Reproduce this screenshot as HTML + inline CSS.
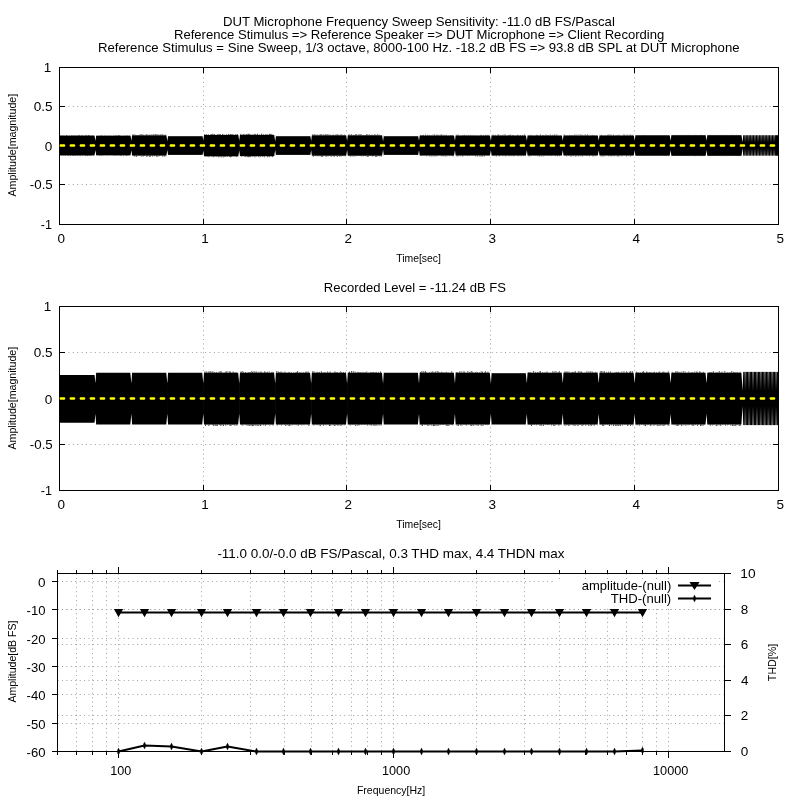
<!DOCTYPE html>
<html><head><meta charset="utf-8"><style>
html,body{margin:0;padding:0;background:#fff;width:800px;height:800px;overflow:hidden}
svg{display:block;will-change:transform}
text{font-family:"Liberation Sans", sans-serif;fill:#000}
</style></head><body>
<svg width="800" height="800" viewBox="0 0 800 800">
<rect width="800" height="800" fill="#fff"/>
<text x="222.92" y="26.00" font-size="13.5" textLength="391.96" lengthAdjust="spacingAndGlyphs">DUT Microphone Frequency Sweep Sensitivity: -11.0 dB FS/Pascal</text>
<text x="173.93" y="39.00" font-size="13.5" textLength="490.42" lengthAdjust="spacingAndGlyphs">Reference Stimulus =&gt; Reference Speaker =&gt; DUT Microphone =&gt; Client Recording</text>
<text x="97.92" y="52.00" font-size="13.5" textLength="641.66" lengthAdjust="spacingAndGlyphs">Reference Stimulus = Sine Sweep, 1/3 octave, 8000-100 Hz. -18.2 dB FS =&gt; 93.8 dB SPL at DUT Microphone</text>
<path d="M203.5 224V68" stroke="#a0a0a0" stroke-width="1" stroke-dasharray="1 3.41"/>
<path d="M346.5 224V68" stroke="#a0a0a0" stroke-width="1" stroke-dasharray="1 3.41"/>
<path d="M490.5 224V68" stroke="#a0a0a0" stroke-width="1" stroke-dasharray="1 3.41"/>
<path d="M634.5 224V68" stroke="#a0a0a0" stroke-width="1" stroke-dasharray="1 3.41"/>
<path d="M59.6 106.5H778" stroke="#a0a0a0" stroke-width="1" stroke-dasharray="1 3.41"/>
<path d="M59.6 145.5H778" stroke="#a0a0a0" stroke-width="1" stroke-dasharray="1 3.41"/>
<path d="M59.6 184.5H778" stroke="#a0a0a0" stroke-width="1" stroke-dasharray="1 3.41"/>
<rect x="59.5" y="67.5" width="719" height="157" fill="none" stroke="#000" stroke-width="1"/>
<path d="M59.5 219V225" stroke="#000" stroke-width="1"/>
<path d="M59.5 67V73" stroke="#000" stroke-width="1"/>
<text x="57.55" y="243.00" font-size="13.5">0</text>
<path d="M203.5 219V225" stroke="#000" stroke-width="1"/>
<path d="M203.5 67V73" stroke="#000" stroke-width="1"/>
<text x="201.36" y="243.00" font-size="13.5">1</text>
<path d="M346.5 219V225" stroke="#000" stroke-width="1"/>
<path d="M346.5 67V73" stroke="#000" stroke-width="1"/>
<text x="344.55" y="243.00" font-size="13.5">2</text>
<path d="M490.5 219V225" stroke="#000" stroke-width="1"/>
<path d="M490.5 67V73" stroke="#000" stroke-width="1"/>
<text x="488.59" y="243.00" font-size="13.5">3</text>
<path d="M634.5 219V225" stroke="#000" stroke-width="1"/>
<path d="M634.5 67V73" stroke="#000" stroke-width="1"/>
<text x="632.59" y="243.00" font-size="13.5">4</text>
<path d="M778.5 219V225" stroke="#000" stroke-width="1"/>
<path d="M778.5 67V73" stroke="#000" stroke-width="1"/>
<text x="776.56" y="243.00" font-size="13.5">5</text>
<path d="M59 67.5H65" stroke="#000" stroke-width="1"/>
<path d="M773 67.5H779" stroke="#000" stroke-width="1"/>
<text x="43.75" y="72.00" font-size="13.5">1</text>
<path d="M59 106.5H65" stroke="#000" stroke-width="1"/>
<path d="M773 106.5H779" stroke="#000" stroke-width="1"/>
<text x="33.67" y="111.00" font-size="13.5" textLength="18.80" lengthAdjust="spacingAndGlyphs">0.5</text>
<path d="M59 145.5H65" stroke="#000" stroke-width="1"/>
<path d="M773 145.5H779" stroke="#000" stroke-width="1"/>
<text x="44.82" y="150.60" font-size="13.5">0</text>
<path d="M59 184.5H65" stroke="#000" stroke-width="1"/>
<path d="M773 184.5H779" stroke="#000" stroke-width="1"/>
<text x="29.81" y="189.00" font-size="13.5" textLength="22.95" lengthAdjust="spacingAndGlyphs">-0.5</text>
<path d="M59 224.5H65" stroke="#000" stroke-width="1"/>
<path d="M773 224.5H779" stroke="#000" stroke-width="1"/>
<text x="40.84" y="229.00" font-size="13.5" textLength="11.17" lengthAdjust="spacingAndGlyphs">-1</text>
<text x="396.17" y="262.00" font-size="11.4" textLength="44.77" lengthAdjust="spacingAndGlyphs">Time[sec]</text>
<text transform="translate(15.90 0.00) rotate(-90)" x="-196.52" y="0.00" font-size="11.4" textLength="102.68" lengthAdjust="spacingAndGlyphs">Amplitude[magnitude]</text>
<rect x="59.50" y="135.60" width="36.55" height="19.80" fill="#000"/>
<path d="M61.00 135.60v-0.43M61.70 155.40v0.48M63.10 135.60v-0.43M63.80 155.40v0.45M64.77 135.60v-0.29M65.47 155.40v0.46M66.48 135.60v-0.60M67.18 155.40v0.25M67.78 135.60v-0.25M68.48 155.40v0.60M69.58 135.60v-0.22M70.28 155.40v0.69M71.73 135.60v-0.53M72.43 155.40v0.51M72.84 135.60v-0.21M73.54 155.40v0.46M73.82 135.60v-0.30M74.52 155.40v0.32M74.76 135.60v-0.43M75.46 155.40v0.42M76.75 135.60v-0.46M77.45 155.40v0.52M78.30 135.60v-0.53M79.00 155.40v0.43M79.56 135.60v-0.70M80.26 155.40v0.70M81.55 135.60v-0.55M82.25 155.40v0.36M82.75 135.60v-0.34M83.45 155.40v0.24M84.65 135.60v-0.40M85.35 155.40v0.62M86.05 135.60v-0.68M86.75 155.40v0.62M86.95 135.60v-0.30M87.65 155.40v0.66M88.46 135.60v-0.69M89.16 155.40v0.40M89.46 135.60v-0.51M90.16 155.40v0.59M90.71 135.60v-0.24M91.41 155.40v0.37M92.86 135.60v-0.58M93.56 155.40v0.26" stroke="#000" stroke-width="0.8"/>
<rect x="95.45" y="135.70" width="36.55" height="19.60" fill="#000"/>
<path d="M96.95 135.70v-0.25M97.65 155.30v0.23M98.89 135.70v-0.29M99.59 155.30v0.48M100.37 135.70v-0.30M101.07 155.30v0.57M101.44 135.70v-0.52M102.14 155.30v0.26M102.89 135.70v-0.31M103.59 155.30v0.33M105.05 135.70v-0.60M105.75 155.30v0.35M107.10 135.70v-0.31M107.80 155.30v0.40M109.11 135.70v-0.52M109.81 155.30v0.25M111.29 135.70v-0.31M111.99 155.30v0.33M113.20 135.70v-0.36M113.90 155.30v0.35M114.19 135.70v-0.25M114.89 155.30v0.49M115.41 135.70v-0.50M116.11 155.30v0.39M116.90 135.70v-0.68M117.60 155.30v0.44M118.55 135.70v-0.63M119.25 155.30v0.29M119.65 135.70v-0.65M120.35 155.30v0.61M120.87 135.70v-0.29M121.57 155.30v0.57M122.99 135.70v-0.30M123.69 155.30v0.68M125.04 135.70v-0.50M125.74 155.30v0.41M126.08 135.70v-0.22M126.78 155.30v0.68M127.29 135.70v-0.55M127.99 155.30v0.33M129.26 135.70v-0.50M129.96 155.30v0.35" stroke="#000" stroke-width="0.8"/>
<rect x="131.40" y="135.30" width="36.55" height="20.30" fill="#000"/>
<path d="M132.90 135.30v-0.92M133.60 155.60v0.27M134.10 135.30v-0.76M134.80 155.60v1.05M135.80 135.30v-0.48M136.50 155.60v1.12M136.96 135.30v-0.22M137.66 155.60v0.47M138.44 135.30v-0.26M139.14 155.60v0.38M139.82 135.30v-0.77M140.52 155.60v0.33M141.19 135.30v-1.09M141.89 155.60v1.18M142.94 135.30v-0.89M143.64 155.60v0.78M144.03 135.30v-0.24M144.73 155.60v0.22M146.11 135.30v-0.90M146.81 155.60v1.16M147.04 135.30v-0.84M147.74 155.60v0.68M148.89 135.30v-0.52M149.59 155.60v1.20M149.89 135.30v-0.75M150.59 155.60v0.94M151.96 135.30v-0.94M152.66 155.60v0.90M153.89 135.30v-1.12M154.59 155.60v0.55M155.68 135.30v-1.10M156.38 155.60v1.07M157.12 135.30v-0.99M157.82 155.60v1.06M158.76 135.30v-0.82M159.46 155.60v0.58M160.42 135.30v-0.81M161.12 155.60v0.28M162.15 135.30v-1.19M162.85 155.60v1.08M164.00 135.30v-0.59M164.70 155.60v0.94M165.65 135.30v-0.64M166.35 155.60v1.04" stroke="#000" stroke-width="0.8"/>
<rect x="167.35" y="136.20" width="36.55" height="18.70" fill="#000"/>
<rect x="203.30" y="135.00" width="36.55" height="21.30" fill="#000"/>
<path d="M204.80 135.00v-0.95M205.50 156.30v0.23M206.48 135.00v-0.68M207.18 156.30v0.43M208.29 135.00v-0.70M208.99 156.30v0.81M210.39 135.00v-0.46M211.09 156.30v0.21M211.68 135.00v-0.88M212.38 156.30v0.40M212.80 135.00v-1.11M213.50 156.30v0.86M214.27 135.00v-1.09M214.97 156.30v0.53M216.04 135.00v-0.40M216.74 156.30v0.63M217.99 135.00v-1.11M218.69 156.30v1.08M219.39 135.00v-0.78M220.09 156.30v0.52M220.46 135.00v-0.70M221.16 156.30v1.04M222.47 135.00v-0.91M223.17 156.30v1.15M223.73 135.00v-0.37M224.43 156.30v0.65M224.98 135.00v-0.41M225.68 156.30v0.61M226.70 135.00v-0.69M227.40 156.30v0.52M228.69 135.00v-1.18M229.39 156.30v0.65M229.68 135.00v-0.23M230.38 156.30v1.07M230.64 135.00v-0.91M231.34 156.30v0.77M231.94 135.00v-0.99M232.64 156.30v0.22M233.02 135.00v-0.65M233.72 156.30v0.22M235.00 135.00v-0.44M235.70 156.30v0.34M235.96 135.00v-0.83M236.66 156.30v0.65M237.68 135.00v-0.86M238.38 156.30v1.01" stroke="#000" stroke-width="0.8"/>
<rect x="239.25" y="134.90" width="36.55" height="21.20" fill="#000"/>
<path d="M240.75 134.90v-0.95M241.45 156.10v0.42M242.27 134.90v-0.40M242.97 156.10v0.21M243.78 134.90v-0.99M244.48 156.10v0.40M245.04 134.90v-0.58M245.74 156.10v0.97M246.61 134.90v-0.88M247.31 156.10v1.03M248.02 134.90v-1.07M248.72 156.10v1.20M249.04 134.90v-1.23M249.74 156.10v0.99M250.11 134.90v-0.70M250.81 156.10v0.89M252.19 134.90v-0.61M252.89 156.10v0.83M254.23 134.90v-1.08M254.93 156.10v1.24M255.73 134.90v-0.92M256.43 156.10v0.43M257.57 134.90v-1.10M258.27 156.10v0.91M259.41 134.90v-0.43M260.11 156.10v1.19M261.58 134.90v-1.28M262.28 156.10v0.79M263.51 134.90v-0.55M264.21 156.10v1.20M265.52 134.90v-0.58M266.22 156.10v0.29M266.99 134.90v-0.81M267.69 156.10v1.05M268.53 134.90v-0.23M269.23 156.10v1.09M269.51 134.90v-1.08M270.21 156.10v0.39M270.85 134.90v-1.07M271.55 156.10v0.35M271.94 134.90v-0.77M272.64 156.10v1.00" stroke="#000" stroke-width="0.8"/>
<rect x="275.20" y="136.20" width="36.55" height="18.70" fill="#000"/>
<rect x="311.15" y="135.30" width="36.55" height="20.40" fill="#000"/>
<path d="M312.65 135.30v-0.82M313.35 155.70v1.05M314.19 135.30v-1.05M314.89 155.70v0.28M315.38 135.30v-0.67M316.08 155.70v0.46M317.23 135.30v-0.77M317.93 155.70v0.67M319.22 135.30v-0.70M319.92 155.70v0.48M320.62 135.30v-0.96M321.32 155.70v1.01M321.79 135.30v-0.97M322.49 155.70v1.07M323.37 135.30v-0.72M324.07 155.70v0.38M324.97 135.30v-0.65M325.67 155.70v0.74M325.90 135.30v-1.07M326.60 155.70v0.66M327.32 135.30v-0.92M328.02 155.70v0.71M328.86 135.30v-0.82M329.56 155.70v0.26M330.46 135.30v-0.57M331.16 155.70v1.06M332.56 135.30v-0.44M333.26 155.70v0.63M333.63 135.30v-0.59M334.33 155.70v0.93M335.70 135.30v-0.63M336.40 155.70v0.49M336.85 135.30v-0.76M337.55 155.70v1.03M337.92 135.30v-0.90M338.62 155.70v0.22M339.07 135.30v-0.40M339.77 155.70v0.82M340.39 135.30v-0.52M341.09 155.70v0.76M341.42 135.30v-0.86M342.12 155.70v0.31M342.99 135.30v-0.43M343.69 155.70v0.38M344.58 135.30v-0.59M345.28 155.70v0.54" stroke="#000" stroke-width="0.8"/>
<rect x="347.10" y="135.30" width="36.55" height="20.40" fill="#000"/>
<path d="M348.60 135.30v-0.68M349.30 155.70v0.34M349.77 135.30v-0.77M350.47 155.70v0.77M351.35 135.30v-0.97M352.05 155.70v0.75M353.37 135.30v-0.41M354.07 155.70v0.87M355.32 135.30v-1.01M356.02 155.70v0.48M356.63 135.30v-1.03M357.33 155.70v0.40M358.83 135.30v-1.00M359.53 155.70v0.32M360.04 135.30v-0.85M360.74 155.70v0.43M361.07 135.30v-0.95M361.77 155.70v0.58M362.99 135.30v-0.31M363.69 155.70v0.56M364.78 135.30v-0.22M365.48 155.70v0.38M366.57 135.30v-1.02M367.27 155.70v1.07M367.62 135.30v-0.66M368.32 155.70v0.88M369.17 135.30v-0.82M369.87 155.70v0.37M370.17 135.30v-0.30M370.87 155.70v0.23M371.78 135.30v-0.66M372.48 155.70v0.71M372.87 135.30v-0.37M373.57 155.70v0.38M374.87 135.30v-1.09M375.57 155.70v1.03M375.89 135.30v-0.26M376.59 155.70v1.06M377.39 135.30v-0.89M378.09 155.70v0.49M378.90 135.30v-0.66M379.60 155.70v0.59M380.58 135.30v-0.21M381.28 155.70v0.83" stroke="#000" stroke-width="0.8"/>
<rect x="383.05" y="136.20" width="36.55" height="18.70" fill="#000"/>
<rect x="419.00" y="135.50" width="36.55" height="20.00" fill="#000"/>
<path d="M420.50 135.50v-0.35M421.20 155.50v0.56M422.36 135.50v-0.52M423.06 155.50v0.36M423.48 135.50v-0.61M424.18 155.50v0.21M425.54 135.50v-0.84M426.24 155.50v0.76M427.56 135.50v-0.70M428.26 155.50v0.52M429.24 135.50v-0.60M429.94 155.50v0.99M431.18 135.50v-0.41M431.88 155.50v0.93M433.05 135.50v-0.82M433.75 155.50v0.85M434.48 135.50v-0.92M435.18 155.50v0.90M436.28 135.50v-0.81M436.98 155.50v0.81M437.71 135.50v-0.78M438.41 155.50v0.26M439.05 135.50v-0.58M439.75 155.50v0.21M440.41 135.50v-0.71M441.11 155.50v0.70M441.62 135.50v-0.96M442.32 155.50v0.73M442.95 135.50v-0.73M443.65 155.50v0.66M444.55 135.50v-0.51M445.25 155.50v1.00M446.28 135.50v-0.76M446.98 155.50v0.81M448.46 135.50v-0.22M449.16 155.50v0.69M450.32 135.50v-0.41M451.02 155.50v0.52M451.28 135.50v-0.36M451.98 155.50v0.50M452.31 135.50v-0.40M453.01 155.50v0.92" stroke="#000" stroke-width="0.8"/>
<rect x="454.95" y="135.50" width="36.55" height="20.00" fill="#000"/>
<path d="M456.45 135.50v-0.61M457.15 155.50v0.97M458.09 135.50v-1.00M458.79 155.50v0.71M460.04 135.50v-0.26M460.74 155.50v0.68M461.93 135.50v-0.24M462.63 155.50v0.94M463.04 135.50v-0.58M463.74 155.50v0.34M464.58 135.50v-0.69M465.28 155.50v0.25M466.71 135.50v-0.54M467.41 155.50v0.62M468.39 135.50v-0.49M469.09 155.50v0.43M470.14 135.50v-0.65M470.84 155.50v0.43M471.97 135.50v-0.44M472.67 155.50v0.21M473.19 135.50v-0.23M473.89 155.50v0.33M475.07 135.50v-0.51M475.77 155.50v0.92M476.94 135.50v-0.24M477.64 155.50v0.99M479.07 135.50v-0.26M479.77 155.50v0.92M480.53 135.50v-0.58M481.23 155.50v0.98M481.74 135.50v-0.62M482.44 155.50v0.95M483.58 135.50v-0.57M484.28 155.50v0.98M485.55 135.50v-0.68M486.25 155.50v0.29M487.26 135.50v-0.56M487.96 155.50v0.36M488.23 135.50v-0.62M488.93 155.50v0.30" stroke="#000" stroke-width="0.8"/>
<rect x="490.90" y="135.50" width="36.55" height="20.00" fill="#000"/>
<path d="M492.40 135.50v-0.73M493.10 155.50v0.56M493.64 135.50v-0.67M494.34 155.50v0.54M495.55 135.50v-0.62M496.25 155.50v1.00M497.69 135.50v-0.79M498.39 155.50v0.39M498.74 135.50v-0.91M499.44 155.50v0.83M500.45 135.50v-0.49M501.15 155.50v0.42M502.24 135.50v-0.65M502.94 155.50v0.67M503.96 135.50v-0.80M504.66 155.50v0.35M505.19 135.50v-0.98M505.89 155.50v0.93M507.23 135.50v-0.23M507.93 155.50v0.25M508.48 135.50v-0.54M509.18 155.50v0.70M509.52 135.50v-0.63M510.22 155.50v0.26M510.53 135.50v-0.74M511.23 155.50v0.64M512.25 135.50v-0.50M512.95 155.50v0.58M513.42 135.50v-0.47M514.12 155.50v0.80M515.41 135.50v-0.26M516.11 155.50v0.30M517.36 135.50v-0.70M518.06 155.50v0.82M518.54 135.50v-0.54M519.24 155.50v0.41M520.49 135.50v-0.50M521.19 155.50v0.72M522.68 135.50v-0.46M523.38 155.50v0.64M524.55 135.50v-0.94M525.25 155.50v0.54" stroke="#000" stroke-width="0.8"/>
<rect x="526.85" y="135.50" width="36.55" height="20.00" fill="#000"/>
<path d="M528.35 135.50v-0.28M529.05 155.50v0.90M529.35 135.50v-0.27M530.05 155.50v0.65M530.88 135.50v-0.75M531.58 155.50v0.44M532.79 135.50v-0.26M533.49 155.50v0.37M534.55 135.50v-0.27M535.25 155.50v0.44M536.39 135.50v-0.76M537.09 155.50v0.43M537.48 135.50v-0.49M538.18 155.50v0.78M538.86 135.50v-0.29M539.56 155.50v0.77M540.50 135.50v-0.93M541.20 155.50v0.95M542.58 135.50v-0.55M543.28 155.50v0.84M543.88 135.50v-0.45M544.58 155.50v0.52M545.99 135.50v-0.92M546.69 155.50v0.40M547.36 135.50v-0.49M548.06 155.50v0.49M548.78 135.50v-0.51M549.48 155.50v0.36M550.41 135.50v-0.84M551.11 155.50v0.63M552.40 135.50v-0.65M553.10 155.50v0.34M554.29 135.50v-0.90M554.99 155.50v0.43M555.21 135.50v-0.61M555.91 155.50v0.64M556.85 135.50v-0.97M557.55 155.50v0.72M558.80 135.50v-0.25M559.50 155.50v0.64M560.72 135.50v-0.27M561.42 155.50v0.27" stroke="#000" stroke-width="0.8"/>
<rect x="562.80" y="135.50" width="36.55" height="20.00" fill="#000"/>
<path d="M564.30 135.50v-0.92M565.00 155.50v0.27M566.02 135.50v-0.32M566.72 155.50v0.80M567.77 135.50v-0.40M568.47 155.50v0.38M569.66 135.50v-0.62M570.36 155.50v0.81M571.08 135.50v-0.47M571.78 155.50v0.97M572.85 135.50v-0.59M573.55 155.50v0.63M574.69 135.50v-0.77M575.39 155.50v0.93M576.12 135.50v-0.86M576.82 155.50v0.73M578.13 135.50v-0.84M578.83 155.50v0.87M580.19 135.50v-0.97M580.89 155.50v0.71M581.77 135.50v-0.77M582.47 155.50v0.84M583.21 135.50v-0.54M583.91 155.50v0.32M585.08 135.50v-0.99M585.78 155.50v0.50M586.20 135.50v-0.36M586.90 155.50v0.54M587.48 135.50v-0.98M588.18 155.50v0.25M588.78 135.50v-0.29M589.48 155.50v0.72M590.69 135.50v-0.34M591.39 155.50v0.25M592.18 135.50v-0.67M592.88 155.50v0.93M593.13 135.50v-0.29M593.83 155.50v0.35M594.31 135.50v-0.39M595.01 155.50v0.77M595.99 135.50v-0.38M596.69 155.50v0.35" stroke="#000" stroke-width="0.8"/>
<rect x="598.75" y="135.50" width="36.55" height="20.00" fill="#000"/>
<path d="M600.25 135.50v-0.34M600.95 155.50v0.81M601.56 135.50v-0.64M602.26 155.50v0.85M603.08 135.50v-0.41M603.78 155.50v0.91M605.17 135.50v-0.47M605.87 155.50v0.64M607.31 135.50v-0.59M608.01 155.50v0.38M608.28 135.50v-0.96M608.98 155.50v0.84M609.68 135.50v-0.62M610.38 155.50v0.61M610.93 135.50v-0.99M611.63 155.50v0.73M612.14 135.50v-0.21M612.84 155.50v0.58M613.53 135.50v-0.84M614.23 155.50v0.77M615.21 135.50v-0.33M615.91 155.50v0.33M616.53 135.50v-0.41M617.23 155.50v0.90M618.10 135.50v-0.71M618.80 155.50v0.99M619.35 135.50v-0.63M620.05 155.50v0.32M621.25 135.50v-0.20M621.95 155.50v0.86M623.25 135.50v-0.86M623.95 155.50v0.27M624.50 135.50v-0.77M625.20 155.50v0.28M626.03 135.50v-0.57M626.73 155.50v0.96M627.69 135.50v-0.89M628.39 155.50v0.44M629.61 135.50v-0.53M630.31 155.50v0.93M630.63 135.50v-0.86M631.33 155.50v0.37M632.24 135.50v-0.62M632.94 155.50v0.33" stroke="#000" stroke-width="0.8"/>
<rect x="634.70" y="135.30" width="36.55" height="20.40" fill="#000"/>
<path d="M636.20 135.30v-0.23M636.90 155.70v0.23M637.20 135.30v-0.23M637.90 155.70v0.25M639.03 135.30v-0.24M639.73 155.70v0.27M640.07 135.30v-0.24M640.77 155.70v0.25M642.22 135.30v-0.28M642.92 155.70v0.27M643.14 135.30v-0.24M643.84 155.70v0.27M644.35 135.30v-0.26M645.05 155.70v0.25M645.26 135.30v-0.30M645.96 155.70v0.28M646.43 135.30v-0.26M647.13 155.70v0.23M647.82 135.30v-0.25M648.52 155.70v0.23M649.16 135.30v-0.24M649.86 155.70v0.27M650.39 135.30v-0.22M651.09 155.70v0.27M651.72 135.30v-0.29M652.42 155.70v0.26M653.56 135.30v-0.23M654.26 155.70v0.28M654.58 135.30v-0.21M655.28 155.70v0.21M656.36 135.30v-0.27M657.06 155.70v0.22M657.78 135.30v-0.28M658.48 155.70v0.26M658.80 135.30v-0.22M659.50 155.70v0.22M659.86 135.30v-0.24M660.56 155.70v0.21M661.96 135.30v-0.24M662.66 155.70v0.25M663.70 135.30v-0.28M664.40 155.70v0.28M665.10 135.30v-0.23M665.80 155.70v0.24M666.02 135.30v-0.24M666.72 155.70v0.27M668.20 135.30v-0.28M668.90 155.70v0.27" stroke="#000" stroke-width="0.8"/>
<rect x="670.65" y="135.20" width="36.55" height="20.60" fill="#000"/>
<path d="M672.15 135.20v-0.20M672.85 155.80v0.23M673.49 135.20v-0.27M674.19 155.80v0.21M674.89 135.20v-0.25M675.59 155.80v0.28M676.86 135.20v-0.26M677.56 155.80v0.22M678.76 135.20v-0.29M679.46 155.80v0.25M680.11 135.20v-0.25M680.81 155.80v0.21M681.94 135.20v-0.30M682.64 155.80v0.25M683.77 135.20v-0.28M684.47 155.80v0.22M685.90 135.20v-0.26M686.60 155.80v0.22M686.91 135.20v-0.22M687.61 155.80v0.26M688.71 135.20v-0.23M689.41 155.80v0.29M690.08 135.20v-0.25M690.78 155.80v0.21M692.25 135.20v-0.21M692.95 155.80v0.29M693.86 135.20v-0.26M694.56 155.80v0.26M695.10 135.20v-0.29M695.80 155.80v0.30M697.06 135.20v-0.26M697.76 155.80v0.21M699.03 135.20v-0.23M699.73 155.80v0.29M700.25 135.20v-0.26M700.95 155.80v0.28M701.39 135.20v-0.25M702.09 155.80v0.21M702.33 135.20v-0.22M703.03 155.80v0.30M704.45 135.20v-0.27M705.15 155.80v0.23" stroke="#000" stroke-width="0.8"/>
<rect x="706.60" y="135.20" width="36.55" height="20.60" fill="#000"/>
<path d="M708.10 135.20v-0.27M708.80 155.80v0.24M709.77 135.20v-0.28M710.47 155.80v0.20M710.93 135.20v-0.25M711.63 155.80v0.21M712.33 135.20v-0.26M713.03 155.80v0.22M713.91 135.20v-0.23M714.61 155.80v0.26M715.24 135.20v-0.26M715.94 155.80v0.20M717.01 135.20v-0.21M717.71 155.80v0.30M718.69 135.20v-0.25M719.39 155.80v0.24M720.40 135.20v-0.27M721.10 155.80v0.28M722.28 135.20v-0.25M722.98 155.80v0.30M724.27 135.20v-0.29M724.97 155.80v0.24M725.73 135.20v-0.26M726.43 155.80v0.29M727.32 135.20v-0.25M728.02 155.80v0.24M729.39 135.20v-0.23M730.09 155.80v0.21M731.24 135.20v-0.29M731.94 155.80v0.27M732.91 135.20v-0.28M733.61 155.80v0.23M734.58 135.20v-0.21M735.28 155.80v0.21M736.06 135.20v-0.25M736.76 155.80v0.24M737.03 135.20v-0.27M737.73 155.80v0.25M738.24 135.20v-0.23M738.94 155.80v0.24M739.45 135.20v-0.21M740.15 155.80v0.29" stroke="#000" stroke-width="0.8"/>
<rect x="742.55" y="135.20" width="35.95" height="20.50" fill="#000"/>
<linearGradient id="g67a" gradientUnits="userSpaceOnUse" x1="0" y1="135.20" x2="0" y2="142.58"><stop offset="0" stop-color="#fff" stop-opacity="0.4"/><stop offset="1" stop-color="#fff" stop-opacity="0"/></linearGradient>
<linearGradient id="g67b" gradientUnits="userSpaceOnUse" x1="0" y1="155.70" x2="0" y2="148.32"><stop offset="0" stop-color="#fff" stop-opacity="0.4"/><stop offset="1" stop-color="#fff" stop-opacity="0"/></linearGradient>
<path d="M745.35 134.90V142.58M748.55 134.90V142.58M751.75 134.90V142.58M754.95 134.90V142.58M758.15 134.90V142.58M761.35 134.90V142.58M764.55 134.90V142.58M767.75 134.90V142.58M770.95 134.90V142.58M774.15 134.90V142.58" stroke="url(#g67a)" stroke-width="2"/>
<path d="M745.35 156.00V148.32M748.55 156.00V148.32M751.75 156.00V148.32M754.95 156.00V148.32M758.15 156.00V148.32M761.35 156.00V148.32M764.55 156.00V148.32M767.75 156.00V148.32M770.95 156.00V148.32M774.15 156.00V148.32" stroke="url(#g67b)" stroke-width="2"/>
<path d="M94.15 133.60H96.15V135.70L95.45 140.89ZM94.15 157.40H96.15V155.30L95.45 150.11ZM130.10 133.30H132.10V135.30L131.40 140.65ZM130.10 157.60H132.10V155.60L131.40 150.25ZM166.05 133.30H168.05V136.20L167.35 141.13ZM166.05 157.60H168.05V154.90L167.35 149.97ZM202.00 133.00H204.00V135.00L203.30 140.56ZM202.00 158.30H204.00V156.30L203.30 150.74ZM237.95 132.90H239.95V134.90L239.25 140.52ZM237.95 158.30H239.95V156.10L239.25 150.48ZM273.90 132.90H275.90V136.20L275.20 141.13ZM273.90 158.10H275.90V154.90L275.20 149.97ZM309.85 133.30H311.85V135.30L311.15 140.71ZM309.85 157.70H311.85V155.70L311.15 150.29ZM345.80 133.30H347.80V135.30L347.10 140.71ZM345.80 157.70H347.80V155.70L347.10 150.29ZM381.75 133.30H383.75V136.20L383.05 141.13ZM381.75 157.70H383.75V154.90L383.05 149.97ZM417.70 133.50H419.70V135.50L419.00 140.80ZM417.70 157.50H419.70V155.50L419.00 150.20ZM453.65 133.50H455.65V135.50L454.95 140.80ZM453.65 157.50H455.65V155.50L454.95 150.20ZM489.60 133.50H491.60V135.50L490.90 140.80ZM489.60 157.50H491.60V155.50L490.90 150.20ZM525.55 133.50H527.55V135.50L526.85 140.80ZM525.55 157.50H527.55V155.50L526.85 150.20ZM561.50 133.50H563.50V135.50L562.80 140.80ZM561.50 157.50H563.50V155.50L562.80 150.20ZM597.45 133.50H599.45V135.50L598.75 140.80ZM597.45 157.50H599.45V155.50L598.75 150.20ZM633.40 133.30H635.40V135.30L634.70 140.71ZM633.40 157.70H635.40V155.70L634.70 150.29ZM669.35 133.20H671.35V135.20L670.65 140.66ZM669.35 157.80H671.35V155.80L670.65 150.34ZM705.30 133.20H707.30V135.20L706.60 140.66ZM705.30 157.80H707.30V155.80L706.60 150.34ZM741.25 133.20H743.25V135.20L742.55 142.54ZM741.25 157.80H743.25V155.70L742.55 148.36Z" fill="#fff"/>
<path d="M60.8 145.5H776" stroke="#ffff00" stroke-width="2.4" stroke-linecap="round" stroke-dasharray="3.3 6.7"/>
<text x="323.84" y="292.00" font-size="13.5" textLength="182.16" lengthAdjust="spacingAndGlyphs">Recorded Level = -11.24 dB FS</text>
<path d="M203.5 490V307" stroke="#a0a0a0" stroke-width="1" stroke-dasharray="1 3.41"/>
<path d="M346.5 490V307" stroke="#a0a0a0" stroke-width="1" stroke-dasharray="1 3.41"/>
<path d="M490.5 490V307" stroke="#a0a0a0" stroke-width="1" stroke-dasharray="1 3.41"/>
<path d="M634.5 490V307" stroke="#a0a0a0" stroke-width="1" stroke-dasharray="1 3.41"/>
<path d="M59.6 352.5H778" stroke="#a0a0a0" stroke-width="1" stroke-dasharray="1 3.41"/>
<path d="M59.6 398.5H778" stroke="#a0a0a0" stroke-width="1" stroke-dasharray="1 3.41"/>
<path d="M59.6 444.5H778" stroke="#a0a0a0" stroke-width="1" stroke-dasharray="1 3.41"/>
<rect x="59.5" y="306.5" width="719" height="184" fill="none" stroke="#000" stroke-width="1"/>
<path d="M59.5 485V491" stroke="#000" stroke-width="1"/>
<path d="M59.5 306V312" stroke="#000" stroke-width="1"/>
<text x="57.55" y="509.00" font-size="13.5">0</text>
<path d="M203.5 485V491" stroke="#000" stroke-width="1"/>
<path d="M203.5 306V312" stroke="#000" stroke-width="1"/>
<text x="201.36" y="509.00" font-size="13.5">1</text>
<path d="M346.5 485V491" stroke="#000" stroke-width="1"/>
<path d="M346.5 306V312" stroke="#000" stroke-width="1"/>
<text x="344.55" y="509.00" font-size="13.5">2</text>
<path d="M490.5 485V491" stroke="#000" stroke-width="1"/>
<path d="M490.5 306V312" stroke="#000" stroke-width="1"/>
<text x="488.59" y="509.00" font-size="13.5">3</text>
<path d="M634.5 485V491" stroke="#000" stroke-width="1"/>
<path d="M634.5 306V312" stroke="#000" stroke-width="1"/>
<text x="632.59" y="509.00" font-size="13.5">4</text>
<path d="M778.5 485V491" stroke="#000" stroke-width="1"/>
<path d="M778.5 306V312" stroke="#000" stroke-width="1"/>
<text x="776.56" y="509.00" font-size="13.5">5</text>
<path d="M59 306.5H65" stroke="#000" stroke-width="1"/>
<path d="M773 306.5H779" stroke="#000" stroke-width="1"/>
<text x="43.75" y="311.00" font-size="13.5">1</text>
<path d="M59 352.5H65" stroke="#000" stroke-width="1"/>
<path d="M773 352.5H779" stroke="#000" stroke-width="1"/>
<text x="33.67" y="357.00" font-size="13.5" textLength="18.80" lengthAdjust="spacingAndGlyphs">0.5</text>
<path d="M59 398.5H65" stroke="#000" stroke-width="1"/>
<path d="M773 398.5H779" stroke="#000" stroke-width="1"/>
<text x="44.82" y="403.60" font-size="13.5">0</text>
<path d="M59 444.5H65" stroke="#000" stroke-width="1"/>
<path d="M773 444.5H779" stroke="#000" stroke-width="1"/>
<text x="29.81" y="449.00" font-size="13.5" textLength="22.95" lengthAdjust="spacingAndGlyphs">-0.5</text>
<path d="M59 490.5H65" stroke="#000" stroke-width="1"/>
<path d="M773 490.5H779" stroke="#000" stroke-width="1"/>
<text x="40.84" y="495.00" font-size="13.5" textLength="11.17" lengthAdjust="spacingAndGlyphs">-1</text>
<text x="396.17" y="528.00" font-size="11.4" textLength="44.77" lengthAdjust="spacingAndGlyphs">Time[sec]</text>
<text transform="translate(15.90 0.00) rotate(-90)" x="-449.52" y="0.00" font-size="11.4" textLength="102.68" lengthAdjust="spacingAndGlyphs">Amplitude[magnitude]</text>
<rect x="59.50" y="375.00" width="36.55" height="47.75" fill="#000"/>
<rect x="95.45" y="372.75" width="36.55" height="51.75" fill="#000"/>
<rect x="131.40" y="372.75" width="36.55" height="51.75" fill="#000"/>
<rect x="167.35" y="372.75" width="36.55" height="51.75" fill="#000"/>
<rect x="203.30" y="372.75" width="36.55" height="51.75" fill="#000"/>
<path d="M204.80 372.75v-1.13M205.50 424.50v1.41M206.25 372.75v-1.33M206.95 424.50v0.51M208.12 372.75v-0.99M208.82 424.50v1.46M209.15 372.75v-1.31M209.85 424.50v0.37M210.75 372.75v-1.53M211.45 424.50v0.20M211.96 372.75v-0.62M212.66 424.50v0.65M212.94 372.75v-1.45M213.64 424.50v1.34M214.36 372.75v-0.70M215.06 424.50v1.02M215.32 372.75v-0.24M216.02 424.50v1.46M216.62 372.75v-0.90M217.32 424.50v1.51M218.79 372.75v-0.86M219.49 424.50v0.49M220.07 372.75v-1.49M220.77 424.50v1.46M221.23 372.75v-1.37M221.93 424.50v0.70M222.74 372.75v-0.44M223.44 424.50v1.43M224.94 372.75v-0.48M225.64 424.50v1.09M226.09 372.75v-1.43M226.79 424.50v0.27M227.12 372.75v-1.22M227.82 424.50v0.64M229.19 372.75v-1.42M229.89 424.50v1.20M230.27 372.75v-1.17M230.97 424.50v1.51M231.75 372.75v-0.31M232.45 424.50v0.51M233.05 372.75v-1.19M233.75 424.50v0.48M234.18 372.75v-0.53M234.88 424.50v1.13M236.11 372.75v-0.72M236.81 424.50v1.13" stroke="#000" stroke-width="0.8"/>
<rect x="239.25" y="372.75" width="36.55" height="51.75" fill="#000"/>
<path d="M240.75 372.75v-1.03M241.45 424.50v0.52M242.04 372.75v-1.50M242.74 424.50v1.13M243.30 372.75v-1.10M244.00 424.50v0.33M245.48 372.75v-0.82M246.18 424.50v0.94M247.07 372.75v-0.26M247.77 424.50v1.04M248.34 372.75v-0.55M249.04 424.50v1.32M249.35 372.75v-0.60M250.05 424.50v1.26M250.57 372.75v-0.59M251.27 424.50v0.97M251.71 372.75v-1.46M252.41 424.50v1.58M252.66 372.75v-0.85M253.36 424.50v1.25M254.06 372.75v-1.50M254.76 424.50v0.90M255.19 372.75v-0.98M255.89 424.50v1.10M256.56 372.75v-1.12M257.26 424.50v1.30M258.13 372.75v-0.91M258.83 424.50v1.38M259.92 372.75v-0.93M260.62 424.50v1.53M261.05 372.75v-1.29M261.75 424.50v0.43M262.74 372.75v-0.53M263.44 424.50v0.82M264.64 372.75v-1.30M265.34 424.50v1.31M265.85 372.75v-0.88M266.55 424.50v0.51M267.50 372.75v-0.90M268.20 424.50v0.25M269.18 372.75v-1.20M269.88 424.50v1.00M271.21 372.75v-0.45M271.91 424.50v0.41M272.14 372.75v-0.89M272.84 424.50v0.81M273.61 372.75v-0.57M274.31 424.50v1.32" stroke="#000" stroke-width="0.8"/>
<rect x="275.20" y="372.75" width="36.55" height="51.75" fill="#000"/>
<path d="M276.70 372.75v-1.47M277.40 424.50v1.00M278.31 372.75v-1.31M279.01 424.50v0.53M279.40 372.75v-0.64M280.10 424.50v0.26M280.70 372.75v-1.07M281.40 424.50v0.94M281.95 372.75v-1.02M282.65 424.50v0.32M283.92 372.75v-0.44M284.62 424.50v0.56M285.02 372.75v-1.17M285.72 424.50v1.36M286.95 372.75v-0.29M287.65 424.50v0.77M288.32 372.75v-0.50M289.02 424.50v1.56M289.27 372.75v-0.89M289.97 424.50v1.27M291.46 372.75v-0.40M292.16 424.50v0.84M293.33 372.75v-0.25M294.03 424.50v0.54M295.38 372.75v-0.40M296.08 424.50v0.75M296.67 372.75v-0.79M297.37 424.50v0.31M297.61 372.75v-1.59M298.31 424.50v1.27M299.47 372.75v-0.52M300.17 424.50v0.55M301.09 372.75v-0.54M301.79 424.50v0.85M303.20 372.75v-0.71M303.90 424.50v0.67M305.37 372.75v-1.06M306.07 424.50v0.26M306.80 372.75v-1.11M307.50 424.50v0.28M308.14 372.75v-1.17M308.84 424.50v1.41" stroke="#000" stroke-width="0.8"/>
<rect x="311.15" y="372.75" width="36.55" height="51.75" fill="#000"/>
<path d="M312.65 372.75v-1.44M313.35 424.50v0.85M314.06 372.75v-1.38M314.76 424.50v0.73M315.98 372.75v-0.50M316.68 424.50v0.69M317.12 372.75v-0.97M317.82 424.50v0.43M318.28 372.75v-0.50M318.98 424.50v0.85M319.58 372.75v-0.83M320.28 424.50v1.59M321.36 372.75v-1.41M322.06 424.50v0.49M322.76 372.75v-0.30M323.46 424.50v1.17M324.13 372.75v-0.58M324.83 424.50v0.23M325.27 372.75v-0.57M325.97 424.50v0.75M327.37 372.75v-1.20M328.07 424.50v0.58M328.74 372.75v-0.41M329.44 424.50v1.51M330.11 372.75v-1.27M330.81 424.50v1.21M332.19 372.75v-0.23M332.89 424.50v0.65M333.59 372.75v-0.32M334.29 424.50v1.44M334.91 372.75v-1.28M335.61 424.50v0.93M335.88 372.75v-0.75M336.58 424.50v0.53M336.83 372.75v-0.41M337.53 424.50v1.03M337.78 372.75v-0.64M338.48 424.50v0.79M339.38 372.75v-0.39M340.08 424.50v1.19M340.62 372.75v-1.22M341.32 424.50v1.13M341.71 372.75v-0.49M342.41 424.50v0.59M343.54 372.75v-0.77M344.24 424.50v0.74M345.56 372.75v-0.52M346.26 424.50v0.61" stroke="#000" stroke-width="0.8"/>
<rect x="347.10" y="372.75" width="36.55" height="51.75" fill="#000"/>
<path d="M348.60 372.75v-0.50M349.30 424.50v0.26M349.53 372.75v-1.08M350.23 424.50v0.99M351.48 372.75v-1.57M352.18 424.50v0.62M353.25 372.75v-1.49M353.95 424.50v0.50M355.05 372.75v-1.13M355.75 424.50v1.54M357.08 372.75v-0.53M357.78 424.50v1.09M358.10 372.75v-0.80M358.80 424.50v0.75M359.07 372.75v-0.74M359.77 424.50v0.66M360.62 372.75v-0.59M361.32 424.50v0.42M362.04 372.75v-0.87M362.74 424.50v0.43M363.81 372.75v-0.54M364.51 424.50v0.33M365.15 372.75v-0.79M365.85 424.50v0.41M366.81 372.75v-1.18M367.51 424.50v0.97M368.62 372.75v-0.23M369.32 424.50v0.75M369.99 372.75v-0.29M370.69 424.50v0.77M370.97 372.75v-0.89M371.67 424.50v1.02M372.48 372.75v-0.66M373.18 424.50v0.55M373.41 372.75v-0.69M374.11 424.50v1.45M375.04 372.75v-0.57M375.74 424.50v1.14M376.18 372.75v-0.86M376.88 424.50v1.06M378.32 372.75v-0.71M379.02 424.50v1.01M380.45 372.75v-1.28M381.15 424.50v1.08" stroke="#000" stroke-width="0.8"/>
<rect x="383.05" y="372.75" width="36.55" height="51.75" fill="#000"/>
<rect x="419.00" y="372.75" width="36.55" height="51.75" fill="#000"/>
<path d="M420.50 372.75v-0.78M421.20 424.50v0.78M421.76 372.75v-1.36M422.46 424.50v1.43M423.16 372.75v-1.47M423.86 424.50v0.25M424.23 372.75v-0.91M424.93 424.50v0.63M425.60 372.75v-1.57M426.30 424.50v0.41M426.75 372.75v-0.52M427.45 424.50v1.15M427.96 372.75v-0.20M428.66 424.50v0.96M429.37 372.75v-0.54M430.07 424.50v0.89M431.11 372.75v-0.97M431.81 424.50v1.07M432.74 372.75v-1.36M433.44 424.50v1.56M434.08 372.75v-0.69M434.78 424.50v1.44M435.38 372.75v-1.20M436.08 424.50v1.17M437.18 372.75v-1.55M437.88 424.50v1.35M438.28 372.75v-1.07M438.98 424.50v0.89M439.92 372.75v-0.72M440.62 424.50v0.60M441.79 372.75v-0.95M442.49 424.50v0.53M443.01 372.75v-0.65M443.71 424.50v0.45M444.58 372.75v-0.38M445.28 424.50v0.29M445.57 372.75v-0.34M446.27 424.50v1.19M446.62 372.75v-0.83M447.32 424.50v1.28M448.14 372.75v-0.43M448.84 424.50v1.41M450.17 372.75v-0.27M450.87 424.50v0.56M451.73 372.75v-1.32M452.43 424.50v0.75" stroke="#000" stroke-width="0.8"/>
<rect x="454.95" y="372.75" width="36.55" height="51.75" fill="#000"/>
<path d="M456.45 372.75v-0.55M457.15 424.50v1.20M457.77 372.75v-0.67M458.47 424.50v1.26M459.77 372.75v-1.36M460.47 424.50v0.99M461.22 372.75v-1.19M461.92 424.50v1.07M463.20 372.75v-1.32M463.90 424.50v0.38M464.59 372.75v-1.14M465.29 424.50v0.52M465.73 372.75v-0.22M466.43 424.50v1.02M467.85 372.75v-1.56M468.55 424.50v0.39M469.64 372.75v-0.79M470.34 424.50v1.08M471.06 372.75v-1.51M471.76 424.50v1.58M472.02 372.75v-1.20M472.72 424.50v0.37M472.98 372.75v-0.60M473.68 424.50v1.22M475.17 372.75v-0.37M475.87 424.50v0.66M476.11 372.75v-0.96M476.81 424.50v0.88M477.49 372.75v-0.63M478.19 424.50v1.32M479.48 372.75v-0.60M480.18 424.50v0.75M481.18 372.75v-1.27M481.88 424.50v1.57M482.59 372.75v-1.17M483.29 424.50v0.96M484.53 372.75v-0.41M485.23 424.50v0.45M485.57 372.75v-1.51M486.27 424.50v0.55M487.10 372.75v-0.37M487.80 424.50v0.65M488.03 372.75v-0.99M488.73 424.50v0.40" stroke="#000" stroke-width="0.8"/>
<rect x="490.90" y="373.20" width="36.55" height="51.30" fill="#000"/>
<rect x="526.85" y="372.75" width="36.55" height="51.75" fill="#000"/>
<path d="M528.35 372.75v-0.58M529.05 424.50v0.52M529.88 372.75v-0.71M530.58 424.50v0.56M530.84 372.75v-0.29M531.54 424.50v1.45M532.15 372.75v-0.31M532.85 424.50v0.46M533.67 372.75v-1.60M534.37 424.50v0.48M535.70 372.75v-0.88M536.40 424.50v0.78M537.65 372.75v-0.75M538.35 424.50v0.28M539.27 372.75v-1.12M539.97 424.50v1.07M540.53 372.75v-1.51M541.23 424.50v1.41M542.72 372.75v-0.82M543.42 424.50v1.37M544.56 372.75v-0.45M545.26 424.50v0.24M545.68 372.75v-0.37M546.38 424.50v0.30M547.05 372.75v-1.25M547.75 424.50v0.63M548.62 372.75v-0.21M549.32 424.50v0.49M550.76 372.75v-0.22M551.46 424.50v0.94M552.72 372.75v-1.31M553.42 424.50v1.23M554.14 372.75v-1.32M554.84 424.50v1.36M556.03 372.75v-1.58M556.73 424.50v0.34M558.17 372.75v-0.76M558.87 424.50v1.19M559.39 372.75v-1.47M560.09 424.50v0.23M561.04 372.75v-0.52M561.74 424.50v0.74" stroke="#000" stroke-width="0.8"/>
<rect x="562.80" y="372.75" width="36.55" height="51.75" fill="#000"/>
<path d="M564.30 372.75v-1.12M565.00 424.50v1.34M565.67 372.75v-1.09M566.37 424.50v0.70M566.94 372.75v-1.47M567.64 424.50v0.65M567.96 372.75v-0.67M568.66 424.50v1.24M569.13 372.75v-1.24M569.83 424.50v0.96M570.92 372.75v-0.45M571.62 424.50v0.35M572.00 372.75v-0.69M572.70 424.50v0.80M572.92 372.75v-0.90M573.62 424.50v0.76M574.23 372.75v-0.95M574.93 424.50v1.53M575.40 372.75v-1.43M576.10 424.50v0.65M577.28 372.75v-0.35M577.98 424.50v1.58M578.74 372.75v-1.55M579.44 424.50v0.51M580.17 372.75v-1.19M580.87 424.50v0.45M581.43 372.75v-1.15M582.13 424.50v1.53M582.75 372.75v-0.46M583.45 424.50v0.70M584.93 372.75v-0.41M585.63 424.50v1.09M586.32 372.75v-1.10M587.02 424.50v0.50M588.02 372.75v-1.44M588.72 424.50v1.40M589.74 372.75v-0.91M590.44 424.50v0.99M590.79 372.75v-1.37M591.49 424.50v1.17M592.28 372.75v-1.13M592.98 424.50v0.79M593.68 372.75v-0.52M594.38 424.50v1.04M595.32 372.75v-0.92M596.02 424.50v0.25M597.04 372.75v-0.83M597.74 424.50v1.03" stroke="#000" stroke-width="0.8"/>
<rect x="598.75" y="372.75" width="36.55" height="51.75" fill="#000"/>
<path d="M600.25 372.75v-1.50M600.95 424.50v0.41M601.76 372.75v-1.59M602.46 424.50v1.23M603.07 372.75v-1.23M603.77 424.50v1.59M604.49 372.75v-1.41M605.19 424.50v0.38M606.68 372.75v-0.89M607.38 424.50v0.53M608.67 372.75v-1.11M609.37 424.50v1.51M610.65 372.75v-1.32M611.35 424.50v0.92M612.84 372.75v-0.29M613.54 424.50v1.42M614.66 372.75v-0.55M615.36 424.50v1.33M616.15 372.75v-0.95M616.85 424.50v1.41M617.31 372.75v-0.59M618.01 424.50v1.10M618.30 372.75v-0.98M619.00 424.50v1.30M619.84 372.75v-0.54M620.54 424.50v1.32M621.85 372.75v-1.28M622.55 424.50v0.97M623.93 372.75v-1.32M624.63 424.50v0.41M625.31 372.75v-0.34M626.01 424.50v0.25M626.66 372.75v-1.41M627.36 424.50v1.37M627.71 372.75v-0.45M628.41 424.50v0.74M629.71 372.75v-1.06M630.41 424.50v1.46M630.71 372.75v-1.58M631.41 424.50v0.49M632.42 372.75v-1.43M633.12 424.50v1.22" stroke="#000" stroke-width="0.8"/>
<rect x="634.70" y="372.75" width="36.55" height="51.75" fill="#000"/>
<path d="M636.20 372.75v-1.14M636.90 424.50v0.80M637.12 372.75v-0.68M637.82 424.50v0.64M638.84 372.75v-0.59M639.54 424.50v1.04M640.64 372.75v-0.45M641.34 424.50v0.38M642.44 372.75v-0.85M643.14 424.50v0.38M643.49 372.75v-1.52M644.19 424.50v1.05M644.86 372.75v-0.47M645.56 424.50v1.59M646.66 372.75v-1.23M647.36 424.50v0.70M647.96 372.75v-0.77M648.66 424.50v0.40M649.68 372.75v-0.79M650.38 424.50v1.35M651.11 372.75v-0.84M651.81 424.50v0.91M653.24 372.75v-0.68M653.94 424.50v1.19M654.44 372.75v-1.01M655.14 424.50v0.60M656.48 372.75v-0.60M657.18 424.50v1.40M658.26 372.75v-0.84M658.96 424.50v1.51M659.66 372.75v-1.24M660.36 424.50v1.04M661.14 372.75v-0.29M661.84 424.50v0.79M662.41 372.75v-0.82M663.11 424.50v1.54M663.69 372.75v-1.17M664.39 424.50v1.14M664.91 372.75v-0.78M665.61 424.50v0.39M666.97 372.75v-0.55M667.67 424.50v0.79M668.32 372.75v-1.35M669.02 424.50v1.39" stroke="#000" stroke-width="0.8"/>
<rect x="670.65" y="372.75" width="36.55" height="51.75" fill="#000"/>
<path d="M672.15 372.75v-0.96M672.85 424.50v0.34M674.22 372.75v-0.32M674.92 424.50v0.71M675.60 372.75v-1.21M676.30 424.50v1.14M676.95 372.75v-1.46M677.65 424.50v1.53M677.88 372.75v-1.09M678.58 424.50v0.86M679.25 372.75v-0.85M679.95 424.50v0.64M681.02 372.75v-1.05M681.72 424.50v1.56M683.19 372.75v-1.59M683.89 424.50v0.75M685.17 372.75v-1.11M685.87 424.50v1.18M687.37 372.75v-0.29M688.07 424.50v0.85M688.79 372.75v-1.12M689.49 424.50v0.51M690.97 372.75v-0.49M691.67 424.50v0.72M692.06 372.75v-0.75M692.76 424.50v1.24M693.07 372.75v-0.43M693.77 424.50v1.11M694.78 372.75v-1.24M695.48 424.50v0.55M696.73 372.75v-1.22M697.43 424.50v1.29M697.79 372.75v-0.86M698.49 424.50v0.22M699.81 372.75v-1.52M700.51 424.50v1.45M700.74 372.75v-0.69M701.44 424.50v0.95M702.33 372.75v-0.36M703.03 424.50v1.30M703.62 372.75v-0.91M704.32 424.50v0.37" stroke="#000" stroke-width="0.8"/>
<rect x="706.60" y="372.75" width="36.55" height="51.75" fill="#000"/>
<path d="M708.10 372.75v-0.38M708.80 424.50v0.32M709.67 372.75v-0.61M710.37 424.50v1.29M710.89 372.75v-0.78M711.59 424.50v0.28M712.07 372.75v-0.83M712.77 424.50v0.98M713.57 372.75v-1.39M714.27 424.50v0.35M715.57 372.75v-0.42M716.27 424.50v1.56M717.15 372.75v-0.77M717.85 424.50v1.06M719.18 372.75v-1.55M719.88 424.50v0.78M720.09 372.75v-0.42M720.79 424.50v1.35M721.95 372.75v-1.20M722.65 424.50v0.42M723.54 372.75v-0.24M724.24 424.50v0.35M724.83 372.75v-1.55M725.53 424.50v1.10M726.83 372.75v-0.26M727.53 424.50v0.78M727.83 372.75v-0.57M728.53 424.50v0.36M729.93 372.75v-0.66M730.63 424.50v0.88M731.68 372.75v-1.44M732.38 424.50v1.53M733.31 372.75v-0.90M734.01 424.50v1.47M734.73 372.75v-0.62M735.43 424.50v1.24M735.96 372.75v-0.72M736.66 424.50v0.80M737.48 372.75v-0.70M738.18 424.50v0.80M738.97 372.75v-0.27M739.67 424.50v1.37M739.95 372.75v-0.94M740.65 424.50v0.97" stroke="#000" stroke-width="0.8"/>
<rect x="742.55" y="371.90" width="35.95" height="53.20" fill="#000"/>
<linearGradient id="g306a" gradientUnits="userSpaceOnUse" x1="0" y1="371.90" x2="0" y2="391.05"><stop offset="0" stop-color="#fff" stop-opacity="0.4"/><stop offset="1" stop-color="#fff" stop-opacity="0"/></linearGradient>
<linearGradient id="g306b" gradientUnits="userSpaceOnUse" x1="0" y1="425.10" x2="0" y2="405.95"><stop offset="0" stop-color="#fff" stop-opacity="0.4"/><stop offset="1" stop-color="#fff" stop-opacity="0"/></linearGradient>
<path d="M745.35 371.60V391.05M749.20 371.60V391.05M753.05 371.60V391.05M756.90 371.60V391.05M760.75 371.60V391.05M764.60 371.60V391.05M768.45 371.60V391.05M772.30 371.60V391.05M776.15 371.60V391.05" stroke="url(#g306a)" stroke-width="2"/>
<path d="M745.35 425.40V405.95M749.20 425.40V405.95M753.05 425.40V405.95M756.90 425.40V405.95M760.75 425.40V405.95M764.60 425.40V405.95M768.45 425.40V405.95M772.30 425.40V405.95M776.15 425.40V405.95" stroke="url(#g306b)" stroke-width="2"/>
<path d="M94.15 370.75H96.15V372.75L95.45 383.56ZM94.15 426.50H96.15V424.50L95.45 413.69ZM130.10 370.75H132.10V372.75L131.40 383.56ZM130.10 426.50H132.10V424.50L131.40 413.69ZM166.05 370.75H168.05V372.75L167.35 383.56ZM166.05 426.50H168.05V424.50L167.35 413.69ZM202.00 370.75H204.00V372.75L203.30 383.56ZM202.00 426.50H204.00V424.50L203.30 413.69ZM237.95 370.75H239.95V372.75L239.25 383.56ZM237.95 426.50H239.95V424.50L239.25 413.69ZM273.90 370.75H275.90V372.75L275.20 383.56ZM273.90 426.50H275.90V424.50L275.20 413.69ZM309.85 370.75H311.85V372.75L311.15 383.56ZM309.85 426.50H311.85V424.50L311.15 413.69ZM345.80 370.75H347.80V372.75L347.10 383.56ZM345.80 426.50H347.80V424.50L347.10 413.69ZM381.75 370.75H383.75V372.75L383.05 383.56ZM381.75 426.50H383.75V424.50L383.05 413.69ZM417.70 370.75H419.70V372.75L419.00 383.56ZM417.70 426.50H419.70V424.50L419.00 413.69ZM453.65 370.75H455.65V372.75L454.95 383.56ZM453.65 426.50H455.65V424.50L454.95 413.69ZM489.60 370.75H491.60V373.20L490.90 383.83ZM489.60 426.50H491.60V424.50L490.90 413.87ZM525.55 370.75H527.55V372.75L526.85 383.56ZM525.55 426.50H527.55V424.50L526.85 413.69ZM561.50 370.75H563.50V372.75L562.80 383.56ZM561.50 426.50H563.50V424.50L562.80 413.69ZM597.45 370.75H599.45V372.75L598.75 383.56ZM597.45 426.50H599.45V424.50L598.75 413.69ZM633.40 370.75H635.40V372.75L634.70 383.56ZM633.40 426.50H635.40V424.50L634.70 413.69ZM669.35 370.75H671.35V372.75L670.65 383.56ZM669.35 426.50H671.35V424.50L670.65 413.69ZM705.30 370.75H707.30V372.75L706.60 383.56ZM705.30 426.50H707.30V424.50L706.60 413.69ZM741.25 369.90H743.25V371.90L742.55 391.05ZM741.25 427.10H743.25V425.10L742.55 405.95Z" fill="#fff"/>
<path d="M60.8 398.5H776" stroke="#ffff00" stroke-width="2.4" stroke-linecap="round" stroke-dasharray="3.3 6.7"/>
<text x="217.40" y="558.00" font-size="13.5" textLength="346.99" lengthAdjust="spacingAndGlyphs">-11.0 0.0/-0.0 dB FS/Pascal, 0.3 THD max, 4.4 THDN max</text>
<path d="M76.5 751V574" stroke="#a0a0a0" stroke-width="1" stroke-dasharray="1 3.41"/>
<path d="M92.5 751V574" stroke="#a0a0a0" stroke-width="1" stroke-dasharray="1 3.41"/>
<path d="M106.5 751V574" stroke="#a0a0a0" stroke-width="1" stroke-dasharray="1 3.41"/>
<path d="M118.5 751V574" stroke="#a0a0a0" stroke-width="1" stroke-dasharray="1 3.41"/>
<path d="M201.5 751V574" stroke="#a0a0a0" stroke-width="1" stroke-dasharray="1 3.41"/>
<path d="M250.5 751V574" stroke="#a0a0a0" stroke-width="1" stroke-dasharray="1 3.41"/>
<path d="M284.5 751V574" stroke="#a0a0a0" stroke-width="1" stroke-dasharray="1 3.41"/>
<path d="M311.5 751V574" stroke="#a0a0a0" stroke-width="1" stroke-dasharray="1 3.41"/>
<path d="M332.5 751V574" stroke="#a0a0a0" stroke-width="1" stroke-dasharray="1 3.41"/>
<path d="M351.5 751V574" stroke="#a0a0a0" stroke-width="1" stroke-dasharray="1 3.41"/>
<path d="M367.5 751V574" stroke="#a0a0a0" stroke-width="1" stroke-dasharray="1 3.41"/>
<path d="M381.5 751V574" stroke="#a0a0a0" stroke-width="1" stroke-dasharray="1 3.41"/>
<path d="M393.5 751V574" stroke="#a0a0a0" stroke-width="1" stroke-dasharray="1 3.41"/>
<path d="M476.5 751V574" stroke="#a0a0a0" stroke-width="1" stroke-dasharray="1 3.41"/>
<path d="M524.5 751V574" stroke="#a0a0a0" stroke-width="1" stroke-dasharray="1 3.41"/>
<path d="M559.5 751V574" stroke="#a0a0a0" stroke-width="1" stroke-dasharray="1 3.41"/>
<path d="M585.5 751V574" stroke="#a0a0a0" stroke-width="1" stroke-dasharray="1 3.41"/>
<path d="M607.5 751V574" stroke="#a0a0a0" stroke-width="1" stroke-dasharray="1 3.41"/>
<path d="M626.5 751V574" stroke="#a0a0a0" stroke-width="1" stroke-dasharray="1 3.41"/>
<path d="M642.5 751V574" stroke="#a0a0a0" stroke-width="1" stroke-dasharray="1 3.41"/>
<path d="M656.5 751V574" stroke="#a0a0a0" stroke-width="1" stroke-dasharray="1 3.41"/>
<path d="M668.5 751V574" stroke="#a0a0a0" stroke-width="1" stroke-dasharray="1 3.41"/>
<path d="M57.6 581.5H724" stroke="#a0a0a0" stroke-width="1" stroke-dasharray="1 3.41"/>
<path d="M57.6 609.5H724" stroke="#a0a0a0" stroke-width="1" stroke-dasharray="1 3.41"/>
<path d="M57.6 638.5H724" stroke="#a0a0a0" stroke-width="1" stroke-dasharray="1 3.41"/>
<path d="M57.6 666.5H724" stroke="#a0a0a0" stroke-width="1" stroke-dasharray="1 3.41"/>
<path d="M57.6 694.5H724" stroke="#a0a0a0" stroke-width="1" stroke-dasharray="1 3.41"/>
<path d="M57.6 723.5H724" stroke="#a0a0a0" stroke-width="1" stroke-dasharray="1 3.41"/>
<path d="M57.6 715.5H724" stroke="#a0a0a0" stroke-width="1" stroke-dasharray="1 3.41"/>
<path d="M57.6 680.5H724" stroke="#a0a0a0" stroke-width="1" stroke-dasharray="1 3.41"/>
<path d="M57.6 644.5H724" stroke="#a0a0a0" stroke-width="1" stroke-dasharray="1 3.41"/>
<path d="M57.6 609.5H724" stroke="#a0a0a0" stroke-width="1" stroke-dasharray="1 3.41"/>
<rect x="555" y="579" width="161" height="27" fill="#fff"/>
<polyline points="118.50,612.50 144.50,612.50 171.50,612.50 201.50,612.50 227.50,612.50 256.50,612.50 283.50,612.50 310.50,612.50 338.50,612.50 365.50,612.50 393.50,612.50 421.50,612.50 448.50,612.50 476.50,612.50 504.50,612.50 531.50,612.50 559.50,612.50 586.50,612.50 614.50,612.50 642.50,612.50" fill="none" stroke="#000" stroke-width="2" stroke-linejoin="round"/>
<path d="M113.90 609.10H123.10L118.50 617.20Z" fill="#000"/>
<path d="M139.90 609.10H149.10L144.50 617.20Z" fill="#000"/>
<path d="M166.90 609.10H176.10L171.50 617.20Z" fill="#000"/>
<path d="M196.90 609.10H206.10L201.50 617.20Z" fill="#000"/>
<path d="M222.90 609.10H232.10L227.50 617.20Z" fill="#000"/>
<path d="M251.90 609.10H261.10L256.50 617.20Z" fill="#000"/>
<path d="M278.90 609.10H288.10L283.50 617.20Z" fill="#000"/>
<path d="M305.90 609.10H315.10L310.50 617.20Z" fill="#000"/>
<path d="M333.90 609.10H343.10L338.50 617.20Z" fill="#000"/>
<path d="M360.90 609.10H370.10L365.50 617.20Z" fill="#000"/>
<path d="M388.90 609.10H398.10L393.50 617.20Z" fill="#000"/>
<path d="M416.90 609.10H426.10L421.50 617.20Z" fill="#000"/>
<path d="M443.90 609.10H453.10L448.50 617.20Z" fill="#000"/>
<path d="M471.90 609.10H481.10L476.50 617.20Z" fill="#000"/>
<path d="M499.90 609.10H509.10L504.50 617.20Z" fill="#000"/>
<path d="M526.90 609.10H536.10L531.50 617.20Z" fill="#000"/>
<path d="M554.90 609.10H564.10L559.50 617.20Z" fill="#000"/>
<path d="M581.90 609.10H591.10L586.50 617.20Z" fill="#000"/>
<path d="M609.90 609.10H619.10L614.50 617.20Z" fill="#000"/>
<path d="M637.90 609.10H647.10L642.50 617.20Z" fill="#000"/>
<polyline points="118.50,751.50 144.50,745.50 171.50,746.50 201.50,751.50 227.50,746.50 256.50,751.50 283.50,751.50 310.50,751.50 338.50,751.50 365.50,751.50 393.50,751.50 421.50,751.50 448.50,751.50 476.50,751.50 504.50,751.50 531.50,751.50 559.50,751.50 586.50,751.50 614.50,751.50 642.50,750.50" fill="none" stroke="#000" stroke-width="2" stroke-linejoin="round"/>
<path d="M118.50 747.80L119.70 749.90V753.10L118.50 755.20L117.30 753.10V749.90Z" fill="#000"/>
<path d="M144.50 741.80L145.70 743.90V747.10L144.50 749.20L143.30 747.10V743.90Z" fill="#000"/>
<path d="M171.50 742.80L172.70 744.90V748.10L171.50 750.20L170.30 748.10V744.90Z" fill="#000"/>
<path d="M201.50 747.80L202.70 749.90V753.10L201.50 755.20L200.30 753.10V749.90Z" fill="#000"/>
<path d="M227.50 742.80L228.70 744.90V748.10L227.50 750.20L226.30 748.10V744.90Z" fill="#000"/>
<path d="M256.50 747.80L257.70 749.90V753.10L256.50 755.20L255.30 753.10V749.90Z" fill="#000"/>
<path d="M283.50 747.80L284.70 749.90V753.10L283.50 755.20L282.30 753.10V749.90Z" fill="#000"/>
<path d="M310.50 747.80L311.70 749.90V753.10L310.50 755.20L309.30 753.10V749.90Z" fill="#000"/>
<path d="M338.50 747.80L339.70 749.90V753.10L338.50 755.20L337.30 753.10V749.90Z" fill="#000"/>
<path d="M365.50 747.80L366.70 749.90V753.10L365.50 755.20L364.30 753.10V749.90Z" fill="#000"/>
<path d="M393.50 747.80L394.70 749.90V753.10L393.50 755.20L392.30 753.10V749.90Z" fill="#000"/>
<path d="M421.50 747.80L422.70 749.90V753.10L421.50 755.20L420.30 753.10V749.90Z" fill="#000"/>
<path d="M448.50 747.80L449.70 749.90V753.10L448.50 755.20L447.30 753.10V749.90Z" fill="#000"/>
<path d="M476.50 747.80L477.70 749.90V753.10L476.50 755.20L475.30 753.10V749.90Z" fill="#000"/>
<path d="M504.50 747.80L505.70 749.90V753.10L504.50 755.20L503.30 753.10V749.90Z" fill="#000"/>
<path d="M531.50 747.80L532.70 749.90V753.10L531.50 755.20L530.30 753.10V749.90Z" fill="#000"/>
<path d="M559.50 747.80L560.70 749.90V753.10L559.50 755.20L558.30 753.10V749.90Z" fill="#000"/>
<path d="M586.50 747.80L587.70 749.90V753.10L586.50 755.20L585.30 753.10V749.90Z" fill="#000"/>
<path d="M614.50 747.80L615.70 749.90V753.10L614.50 755.20L613.30 753.10V749.90Z" fill="#000"/>
<path d="M642.50 746.80L643.70 748.90V752.10L642.50 754.20L641.30 752.10V748.90Z" fill="#000"/>
<rect x="57.5" y="573.5" width="667" height="178" fill="none" stroke="#000" stroke-width="1"/>
<path d="M57.5 752V755" stroke="#000" stroke-width="1"/>
<path d="M57.5 570V573" stroke="#000" stroke-width="1"/>
<path d="M76.5 752V755" stroke="#000" stroke-width="1"/>
<path d="M76.5 570V573" stroke="#000" stroke-width="1"/>
<path d="M92.5 752V755" stroke="#000" stroke-width="1"/>
<path d="M92.5 570V573" stroke="#000" stroke-width="1"/>
<path d="M106.5 752V755" stroke="#000" stroke-width="1"/>
<path d="M106.5 570V573" stroke="#000" stroke-width="1"/>
<path d="M118.5 752V758" stroke="#000" stroke-width="1"/>
<path d="M118.5 567V573" stroke="#000" stroke-width="1"/>
<path d="M201.5 752V755" stroke="#000" stroke-width="1"/>
<path d="M201.5 570V573" stroke="#000" stroke-width="1"/>
<path d="M250.5 752V755" stroke="#000" stroke-width="1"/>
<path d="M250.5 570V573" stroke="#000" stroke-width="1"/>
<path d="M284.5 752V755" stroke="#000" stroke-width="1"/>
<path d="M284.5 570V573" stroke="#000" stroke-width="1"/>
<path d="M311.5 752V755" stroke="#000" stroke-width="1"/>
<path d="M311.5 570V573" stroke="#000" stroke-width="1"/>
<path d="M332.5 752V755" stroke="#000" stroke-width="1"/>
<path d="M332.5 570V573" stroke="#000" stroke-width="1"/>
<path d="M351.5 752V755" stroke="#000" stroke-width="1"/>
<path d="M351.5 570V573" stroke="#000" stroke-width="1"/>
<path d="M367.5 752V755" stroke="#000" stroke-width="1"/>
<path d="M367.5 570V573" stroke="#000" stroke-width="1"/>
<path d="M381.5 752V755" stroke="#000" stroke-width="1"/>
<path d="M381.5 570V573" stroke="#000" stroke-width="1"/>
<path d="M393.5 752V758" stroke="#000" stroke-width="1"/>
<path d="M393.5 567V573" stroke="#000" stroke-width="1"/>
<path d="M476.5 752V755" stroke="#000" stroke-width="1"/>
<path d="M476.5 570V573" stroke="#000" stroke-width="1"/>
<path d="M524.5 752V755" stroke="#000" stroke-width="1"/>
<path d="M524.5 570V573" stroke="#000" stroke-width="1"/>
<path d="M559.5 752V755" stroke="#000" stroke-width="1"/>
<path d="M559.5 570V573" stroke="#000" stroke-width="1"/>
<path d="M585.5 752V755" stroke="#000" stroke-width="1"/>
<path d="M585.5 570V573" stroke="#000" stroke-width="1"/>
<path d="M607.5 752V755" stroke="#000" stroke-width="1"/>
<path d="M607.5 570V573" stroke="#000" stroke-width="1"/>
<path d="M626.5 752V755" stroke="#000" stroke-width="1"/>
<path d="M626.5 570V573" stroke="#000" stroke-width="1"/>
<path d="M642.5 752V755" stroke="#000" stroke-width="1"/>
<path d="M642.5 570V573" stroke="#000" stroke-width="1"/>
<path d="M656.5 752V755" stroke="#000" stroke-width="1"/>
<path d="M656.5 570V573" stroke="#000" stroke-width="1"/>
<path d="M668.5 752V758" stroke="#000" stroke-width="1"/>
<path d="M668.5 567V573" stroke="#000" stroke-width="1"/>
<text x="110.24" y="775.00" font-size="13.5" textLength="21.05" lengthAdjust="spacingAndGlyphs">100</text>
<text x="382.04" y="775.00" font-size="13.5" textLength="28.16" lengthAdjust="spacingAndGlyphs">1000</text>
<text x="653.03" y="775.00" font-size="13.5" textLength="35.37" lengthAdjust="spacingAndGlyphs">10000</text>
<path d="M52 581.5H58" stroke="#000" stroke-width="1"/>
<text x="38.02" y="586.50" font-size="13.5">0</text>
<path d="M52 609.5H58" stroke="#000" stroke-width="1"/>
<text x="26.62" y="614.50" font-size="13.5" textLength="18.89" lengthAdjust="spacingAndGlyphs">-10</text>
<path d="M52 638.5H58" stroke="#000" stroke-width="1"/>
<text x="26.62" y="643.50" font-size="13.5" textLength="18.89" lengthAdjust="spacingAndGlyphs">-20</text>
<path d="M52 666.5H58" stroke="#000" stroke-width="1"/>
<text x="26.62" y="671.50" font-size="13.5" textLength="18.89" lengthAdjust="spacingAndGlyphs">-30</text>
<path d="M52 694.5H58" stroke="#000" stroke-width="1"/>
<text x="26.62" y="699.50" font-size="13.5" textLength="18.89" lengthAdjust="spacingAndGlyphs">-40</text>
<path d="M52 723.5H58" stroke="#000" stroke-width="1"/>
<text x="26.62" y="728.50" font-size="13.5" textLength="18.89" lengthAdjust="spacingAndGlyphs">-50</text>
<path d="M52 751.5H58" stroke="#000" stroke-width="1"/>
<text x="26.62" y="756.50" font-size="13.5" textLength="18.89" lengthAdjust="spacingAndGlyphs">-60</text>
<path d="M724 751.5H731" stroke="#000" stroke-width="1"/>
<text x="740.87" y="756.20" font-size="13.5">0</text>
<path d="M724 715.5H731" stroke="#000" stroke-width="1"/>
<text x="740.72" y="720.20" font-size="13.5">2</text>
<path d="M724 680.5H731" stroke="#000" stroke-width="1"/>
<text x="741.09" y="685.20" font-size="13.5">4</text>
<path d="M724 644.5H731" stroke="#000" stroke-width="1"/>
<text x="740.71" y="649.20" font-size="13.5">6</text>
<path d="M724 609.5H731" stroke="#000" stroke-width="1"/>
<text x="740.81" y="614.20" font-size="13.5">8</text>
<path d="M724 573.5H731" stroke="#000" stroke-width="1"/>
<text x="740.35" y="578.20" font-size="13.5" textLength="15.28" lengthAdjust="spacingAndGlyphs">10</text>
<text x="356.94" y="793.50" font-size="11.4" textLength="68.31" lengthAdjust="spacingAndGlyphs">Frequency[Hz]</text>
<text transform="translate(15.90 0.00) rotate(-90)" x="-702.62" y="0.00" font-size="11.4" textLength="82.07" lengthAdjust="spacingAndGlyphs">Amplitude[dB FS]</text>
<text transform="translate(775.90 0.00) rotate(-90)" x="-681.14" y="0.00" font-size="11.4" textLength="37.30" lengthAdjust="spacingAndGlyphs">THD[%]</text>
<text x="581.75" y="590.00" font-size="13.5" textLength="89.46" lengthAdjust="spacingAndGlyphs">amplitude-(null)</text>
<text x="610.71" y="603.00" font-size="13.5" textLength="60.51" lengthAdjust="spacingAndGlyphs">THD-(null)</text>
<path d="M678 585.5H711M678 598.5H711" stroke="#000" stroke-width="2"/>
<path d="M689.5 582H699.5L694.5 589.9Z" fill="#000"/>
<path d="M694.5 594.8L695.7 596.9V600.1L694.5 602.2L693.3 600.1V596.9Z" fill="#000"/>
</svg></body></html>
